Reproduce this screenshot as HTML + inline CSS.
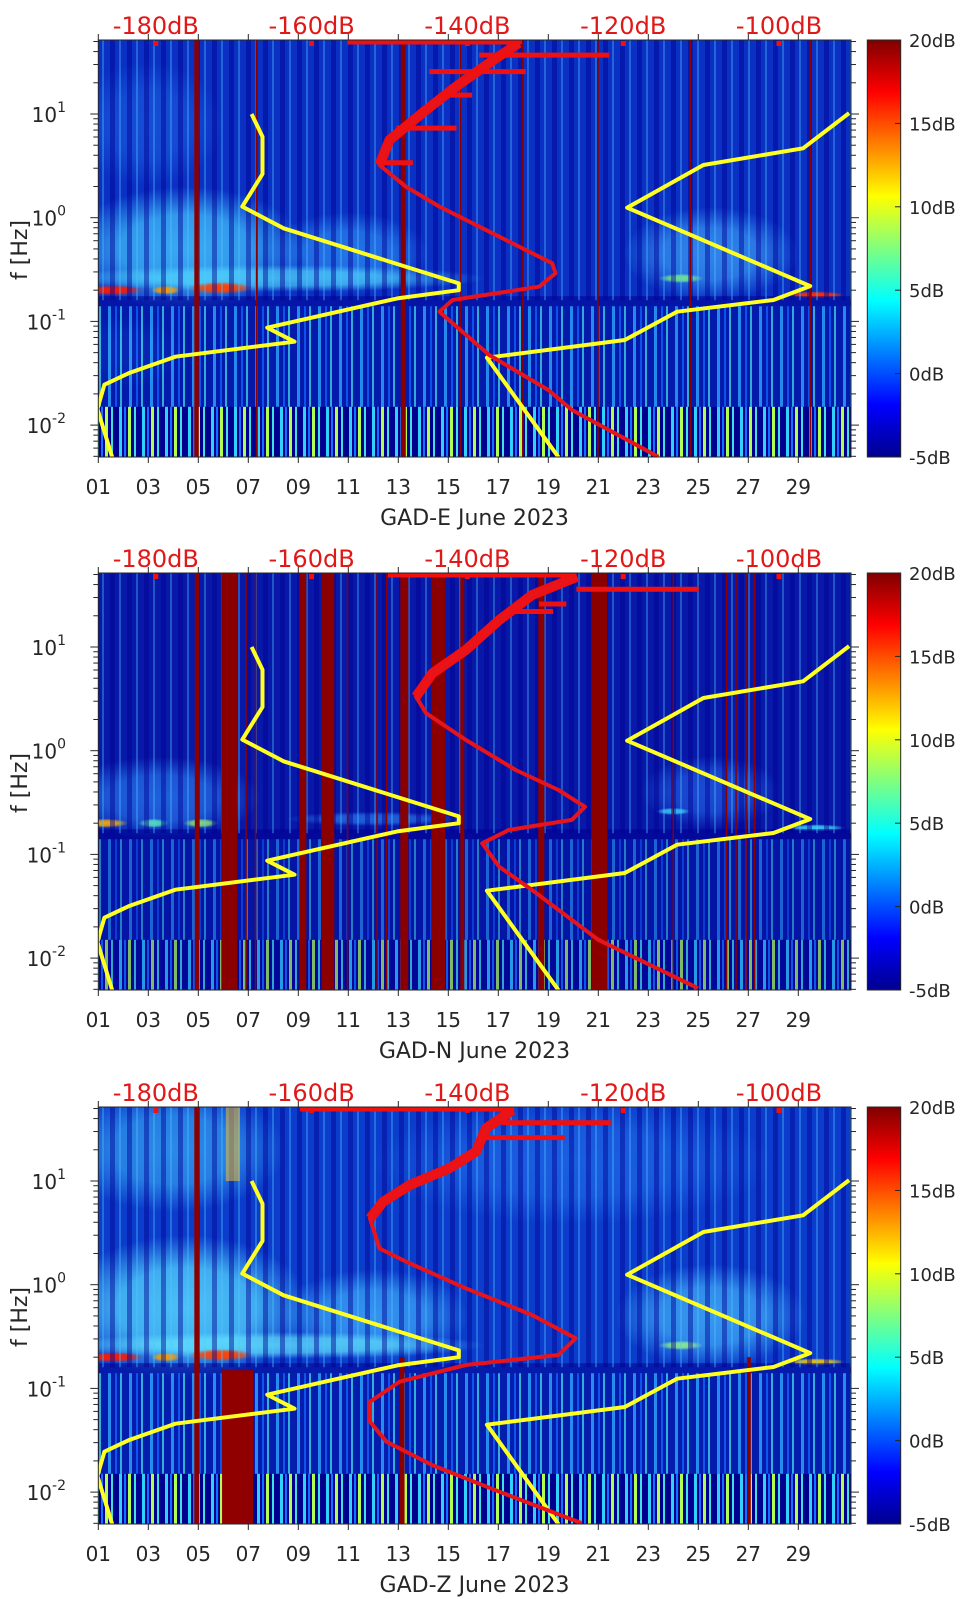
<!DOCTYPE html>
<html><head><meta charset="utf-8"><title>GAD spectrograms June 2023</title>
<style>
html,body{margin:0;padding:0;background:#fff;}
svg{display:block;font-family:"DejaVu Sans","Liberation Sans",sans-serif;}
</style></head>
<body>
<svg id="fig" width="962" height="1599" viewBox="0 0 962 1599" xmlns="http://www.w3.org/2000/svg">
<defs>
<linearGradient id="jet" x1="0" y1="1" x2="0" y2="0">
<stop offset="0" stop-color="#00008f"/><stop offset="0.125" stop-color="#0000ff"/>
<stop offset="0.375" stop-color="#00ffff"/><stop offset="0.625" stop-color="#ffff00"/>
<stop offset="0.875" stop-color="#ff0000"/><stop offset="1" stop-color="#800000"/>
</linearGradient>
<pattern id="streakP" width="17" height="10" patternUnits="userSpaceOnUse">
<rect x="0" y="0" width="2" height="10" fill="#50c8ff" opacity="0.35"/>
<rect x="8" y="0" width="5" height="10" fill="#000090" opacity="0.45"/>
</pattern>
<pattern id="midP" width="21" height="10" patternUnits="userSpaceOnUse">
<rect x="0" y="0" width="21" height="10" fill="#0010a0"/>
<rect x="3" y="0" width="3" height="10" fill="#30b0ff"/>
<rect x="10" y="0" width="2" height="10" fill="#1060ff"/>
<rect x="15" y="0" width="2" height="10" fill="#40e0e0"/>
</pattern>
<pattern id="botP" width="23" height="10" patternUnits="userSpaceOnUse">
<rect x="0" y="0" width="23" height="10" fill="#00008f"/>
<rect x="4" y="0" width="3" height="10" fill="#30d0ff"/>
<rect x="9" y="0" width="2" height="10" fill="#1070ff"/>
<rect x="13" y="0" width="3" height="10" fill="#b0ff50"/>
<rect x="19" y="0" width="2" height="10" fill="#40e0e0"/>
</pattern>
</defs>
</svg>
<script>
// ---------- data ----------
const panelNames = ['GAD-E', 'GAD-N', 'GAD-Z'];
const panelOffsets = [0, 533, 1067];
const dayTicks = [1, 3, 5, 7, 9, 11, 13, 15, 17, 19, 21, 23, 25, 27, 29];
const dbTicks = [-180, -160, -140, -120, -100];
const yDecades = [1, 0, -1, -2];
const cbTicks = [-5, 0, 5, 10, 15, 20];

// Low noise model (yellow, left)
const nlnmFreq = [10, 6.04, 2.64, 1.28, 0.79, 0.2326, 0.2, 0.1667, 0.087, 0.0637, 0.0457, 0.0316, 0.0245, 0.0143, 0.0049];
const nlnmDb = [-167.7, -166.3, -166.3, -168.9, -163.6, -141.1, -141.1, -149.0, -165.7, -162.2, -177.5, -183.5, -186.6, -187.5, -185.6];
// High noise model (yellow, right)
const nhnmFreq = [10.2, 4.67, 3.22, 1.25, 0.219, 0.161, 0.124, 0.0662, 0.0447, 0.0049];
const nhnmDb = [-91.0, -96.9, -109.7, -119.5, -96.0, -100.7, -113.1, -119.8, -137.5, -128.3];

// Median PSD (red) per station
const psdFreqE = [48.4, 31, 18.3, 10.2, 5.61, 3.22, 1.99, 1.28, 0.656, 0.363, 0.291, 0.216, 0.161, 0.124, 0.0474, 0.0218, 0.014, 0.00495];
const psdDbE = [-133.4, -137.2, -141.5, -145.8, -150, -151.3, -147.9, -143.6, -135.9, -129.1, -128.7, -130.8, -141.9, -143.6, -137.2, -129.6, -126.6, -115.5];
const psdFreqN = [47.6, 31.7, 18.2, 9.35, 5.57, 3.32, 2.30, 1.27, 0.652, 0.418, 0.288, 0.215, 0.172, 0.128, 0.076, 0.0454, 0.015, 0.00512];
const psdDbN = [-125.9, -131.7, -135.9, -140.2, -144.5, -146.6, -145.3, -140.2, -133.8, -128.3, -124.9, -126.6, -134.7, -138.1, -135.9, -131.7, -123.2, -110.4];
const psdFreqZ = [48.4, 32.2, 19.2, 13.3, 9.15, 6.31, 4.36, 2.24, 1.67, 0.923, 0.51, 0.304, 0.21, 0.168, 0.116, 0.0745, 0.0478, 0.0306, 0.0182, 0.0101, 0.005];
const psdDbZ = [-134.2, -137.6, -138.9, -142.3, -147.4, -150.8, -152.5, -151.3, -147.9, -140.2, -131.7, -126.1, -128.3, -140.2, -148.7, -152.5, -152.5, -150.4, -144.5, -135.9, -125.3];

// horizontal spikes of the red PSD at high frequency
const spikeFreqE = [50, 37, 25.6, 15.2, 7.3, 3.39];
const spikeFromE = [-155.4, -138.5, -144.9, -143.6, -149.1, -151];
const spikeToE = [-133, -121.8, -132.5, -139.4, -141.4, -147];
const spikeFreqN = [50, 36, 26, 22];
const spikeFromN = [-150.2, -126, -130.8, -134];
const spikeToN = [-126, -110.3, -127.3, -129];
const spikeFreqZ = [50, 36.5, 26.2];
const spikeFromZ = [-161.5, -135.7, -138.4];
const spikeToZ = [-134, -121.6, -127.5];

// saturated (dark red) data-gap stripes: start day, end day
const stripeStartE = [4.84, 13.1, 7.3, 15.45, 17.95, 20.95, 24.65, 29.45];
const stripeEndE = [5.02, 13.3, 7.38, 15.52, 18.02, 21.02, 24.72, 29.52];
const stripeStartN = [4.86, 5.92, 9.04, 9.92, 13.08, 14.32, 15.48, 18.6, 20.72, 6.88, 7.26, 10.94, 12.12, 12.5, 23.97, 26.1, 26.48, 26.88, 27.22];
const stripeEndN = [5.04, 6.56, 9.32, 10.44, 13.4, 14.88, 15.64, 18.84, 21.36, 6.94, 7.32, 11.0, 12.18, 12.56, 24.03, 26.16, 26.54, 26.94, 27.28];
const stripeStartZ = [4.84, 13.05, 26.95];
const stripeEndZ = [5.04, 13.25, 27.1];

// ---------- scales ----------
const PX = 98.3, PW = 752.7, PY = 40, PH = 417;
function xDay(d) { return 98.3 + (d - 1) * 25; }
function xDb(db) { return 155.8 + (db + 180) * 7.79; }
function yF(f) { return 114 + (1 - Math.log10(f)) * 103.7; }

const NS = 'http://www.w3.org/2000/svg';
const svg = document.getElementById('fig');
function mk(tag, attrs, parent) {
  const e = document.createElementNS(NS, tag);
  for (const k in attrs) e.setAttribute(k, attrs[k]);
  (parent || svg).appendChild(e);
  return e;
}
function pts(fr, db) { return fr.map((f, i) => xDb(db[i]).toFixed(1) + ',' + yF(f).toFixed(1)).join(' '); }

const glowSets = [
  [[4.5, 0.5, 4.8, 0.6, '#45c8ff', 0.8], [11, 0.45, 3.2, 0.4, '#35a0ff', 0.6], [25.5, 0.45, 3.5, 0.45, '#45b0ff', 0.65],
   [8, 0.26, 8.5, 0.13, '#55e0ff', 0.7], [2, 0.05, 2.5, 0.35, '#2a90ff', 0.45], [3, 8, 3, 0.6, '#3090ff', 0.3],
   [1.6, 0.2, 1.2, 0.05, '#ff1800', 1], [3.7, 0.2, 0.6, 0.045, '#ffa000', 0.95], [5.9, 0.21, 1.3, 0.06, '#ff4000', 1],
   [29.7, 0.18, 1.2, 0.035, '#ff3000', 1], [24.3, 0.26, 0.9, 0.045, '#80ff80', 0.8]],
  [[3.5, 0.35, 4, 0.4, '#3090ff', 0.6], [25.5, 0.4, 2.8, 0.35, '#3080ff', 0.5],
   [1.3, 0.2, 0.9, 0.045, '#ffb000', 0.9], [3.2, 0.2, 0.6, 0.045, '#60ffb0', 0.8], [5.1, 0.2, 0.7, 0.045, '#a0ff60', 0.8],
   [24, 0.26, 0.7, 0.035, '#40e0ff', 0.8], [29.7, 0.18, 1.2, 0.035, '#40e0ff', 0.85], [12, 0.22, 3.5, 0.07, '#3090ff', 0.6]],
  [[4.5, 0.6, 5, 0.7, '#55d8ff', 0.85], [12, 0.5, 3.8, 0.45, '#45b8ff', 0.7], [25.5, 0.5, 3.8, 0.5, '#4ac0ff', 0.7],
   [8, 0.26, 8.5, 0.13, '#65e8ff', 0.75], [4, 20, 4.5, 0.6, '#45c8ff', 0.55], [20, 15, 8, 0.6, '#3090ff', 0.4],
   [1.6, 0.2, 1.2, 0.05, '#ff1800', 1], [3.7, 0.2, 0.6, 0.045, '#ffa000', 0.95], [5.9, 0.21, 1.3, 0.06, '#ff4000', 1],
   [29.7, 0.18, 1.2, 0.035, '#ffd000', 0.9], [24.3, 0.26, 0.9, 0.045, '#a0ff80', 0.8]]
];
const baseColors = ['#0a30c4', '#0818a8', '#0c3ccc'];
const psdFreqs = [psdFreqE, psdFreqN, psdFreqZ];
const psdDbs = [psdDbE, psdDbN, psdDbZ];
const spikeFreqs = [spikeFreqE, spikeFreqN, spikeFreqZ];
const spikeFroms = [spikeFromE, spikeFromN, spikeFromZ];
const spikeTos = [spikeToE, spikeToN, spikeToZ];
const stripeStarts = [stripeStartE, stripeStartN, stripeStartZ];
const stripeEnds = [stripeEndE, stripeEndN, stripeEndZ];

panelOffsets.forEach((off, p) => {
  const g = mk('g', { transform: 'translate(0,' + off + ')' });
  
  
  const defs = mk('defs', {}, g);
  const cp = mk('clipPath', { id: 'clip' + p }, defs);
  mk('rect', { x: PX, y: PY, width: PW, height: PH }, cp);

  const plot = mk('g', { 'clip-path': 'url(#clip' + p + ')' }, g);
  
  
  mk('rect', { x: PX, y: PY, width: PW, height: PH, fill: baseColors[p] }, plot);
  // glows
  glowSets[p].forEach((gl, i) => {
    const id = 'gl' + p + '_' + i;
    const rg = mk('radialGradient', { id: id }, defs);
    mk('stop', { offset: '0', 'stop-color': gl[4], 'stop-opacity': gl[5] }, rg);
    mk('stop', { offset: '0.55', 'stop-color': gl[4], 'stop-opacity': gl[5] * 0.85 }, rg);
    mk('stop', { offset: '1', 'stop-color': gl[4], 'stop-opacity': 0 }, rg);
    const e = mk('ellipse', { cx: xDay(gl[0]), cy: yF(gl[1]), rx: gl[2] * 25, ry: gl[3] * 103.7, fill: 'url(#' + id + ')' }, plot);
    
    
  });
  // dark band just below microseism peak
  mk('rect', { x: PX, y: yF(0.175), width: PW, height: yF(0.14) - yF(0.175), fill: '#000090', opacity: 0.55 }, plot);
  mk('rect', { x: PX, y: PY, width: PW, height: yF(0.16) - PY, fill: 'url(#streakP)' }, plot);
  mk('rect', { x: PX, y: yF(0.14), width: PW, height: yF(0.015) - yF(0.14), fill: 'url(#midP)', opacity: p === 1 ? 0.5 : 0.7 }, plot);
  mk('rect', { x: PX, y: yF(0.015), width: PW, height: PY + PH - yF(0.015), fill: 'url(#botP)', opacity: p === 1 ? 0.7 : 1 }, plot);
  if (p === 2) {
    const rr = mk('rect', { x: xDay(5.95), y: yF(0.15), width: 31, height: PY + PH - yF(0.15), fill: '#900000' }, plot);
    
    
    mk('rect', { x: xDay(6.1), y: PY, width: 14, height: yF(10) - PY, fill: '#f0c030', opacity: 0.55 }, plot);
  }
  // stripes
  stripeStarts[p].forEach((s, i) => {
    const e = stripeEnds[p][i];
    const lower = (p === 2 && i > 0);
    const st = mk('rect', { x: xDay(s), y: lower ? yF(0.2) : PY, width: Math.max(1.2, xDay(e) - xDay(s)), height: lower ? PY + PH - yF(0.2) : PH, fill: '#8a0000' }, plot);
    
    
  });

  // noise models
  const lo = mk('polyline', { points: pts(nlnmFreq, nlnmDb), fill: 'none', stroke: '#ffff22', 'stroke-width': 4, 'stroke-linejoin': 'round' }, plot);
  
  
  const hi = mk('polyline', { points: pts(nhnmFreq, nhnmDb), fill: 'none', stroke: '#ffff22', 'stroke-width': 4, 'stroke-linejoin': 'round' }, plot);
  
  

  // PSD red
  const fr = psdFreqs[p], db = psdDbs[p];
  const thickF = [], thickD = [];
  fr.forEach((f, i) => { if (f > 2.5) { thickF.push(f); thickD.push(db[i]); } });
  const th = mk('polyline', { points: pts(thickF, thickD), fill: 'none', stroke: '#f01010', 'stroke-width': 10, 'stroke-linejoin': 'round' }, plot);
  
  
  const red = mk('polyline', { points: pts(fr, db), fill: 'none', stroke: '#e8141c', 'stroke-width': 4, 'stroke-linejoin': 'round' }, plot);
  
  
  spikeFreqs[p].forEach((f, i) => {
    const sp = mk('line', { x1: xDb(spikeFroms[p][i]), x2: xDb(spikeTos[p][i]), y1: Math.max(42, yF(f)), y2: Math.max(42, yF(f)), stroke: '#f01010', 'stroke-width': 5 }, plot);
    
    
  });
  dbTicks.forEach(d => { mk('rect', { x: xDb(d) - 2.5, y: 41, width: 5, height: 5, fill: '#f01010' }, plot); });

  // frame
  const fr2 = mk('rect', { x: PX, y: PY, width: PW, height: PH, fill: 'none', stroke: '#262626', 'stroke-width': 1 }, g);
  
  

  // x ticks & labels
  dayTicks.forEach(d => {
    const x = xDay(d);
    mk('line', { x1: x, x2: x, y1: PY + PH, y2: PY + PH + 6, stroke: '#262626' }, g);
    mk('line', { x1: x, x2: x, y1: PY, y2: PY - 6, stroke: '#262626' }, g);
    const t = mk('text', { x: x, y: 494, 'text-anchor': 'middle', 'font-size': 20, fill: '#262626' }, g);
    t.textContent = (d < 10 ? '0' : '') + d;
    
    
  });
  const xt = mk('text', { x: 474.5, y: 525, 'text-anchor': 'middle', 'font-size': 22, fill: '#262626' }, g);
  xt.textContent = panelNames[p] + ' June 2023';
  
  

  // dB labels
  dbTicks.forEach(d => {
    const t = mk('text', { x: xDb(d), y: 34, 'text-anchor': 'middle', 'font-size': 24, fill: '#e01818' }, g);
    t.textContent = d + 'dB';
    
    
  });

  // y ticks
  for (let k = -3; k <= 1; k++) {
    for (let m = 1; m <= 9; m++) {
      const f = m * Math.pow(10, k);
      const y = yF(f);
      if (y < PY || y > PY + PH) continue;
      const len = m === 1 ? 8 : 5;
      mk('line', { x1: PX - len, x2: PX, y1: y, y2: y, stroke: '#262626' }, g);
      mk('line', { x1: PX + PW, x2: PX + PW + len, y1: y, y2: y, stroke: '#262626' }, g);
    }
  }
  yDecades.forEach(k => {
    const t = mk('text', { x: 66, y: yF(Math.pow(10, k)) + 8, 'text-anchor': 'end', 'font-size': 20, fill: '#262626' }, g);
    t.textContent = '10';
    const ts = mk('tspan', { dy: -10, 'font-size': 14 }, t);
    ts.textContent = String(k);
    
    
  });
  const yt = mk('text', { x: 0, y: 0, transform: 'translate(27,250) rotate(-90)', 'text-anchor': 'middle', 'font-size': 22, fill: '#262626' }, g);
  yt.textContent = 'f [Hz]';
  
  

  // colorbar
  const cb = mk('rect', { x: 867.3, y: PY, width: 33.4, height: PH, fill: 'url(#jet)', stroke: '#262626', 'stroke-width': 1 }, g);
  
  
  cbTicks.forEach(v => {
    const y = PY + PH - (v + 5) / 25 * PH;
    if (v > -5 && v < 20) mk('line', { x1: 895, x2: 900.7, y1: y, y2: y, stroke: '#262626' }, g);
    const t = mk('text', { x: 909, y: y + 7, 'font-size': 18, fill: '#262626' }, g);
    t.textContent = v + 'dB';
    
    
  });
});
</script>
</body></html>
